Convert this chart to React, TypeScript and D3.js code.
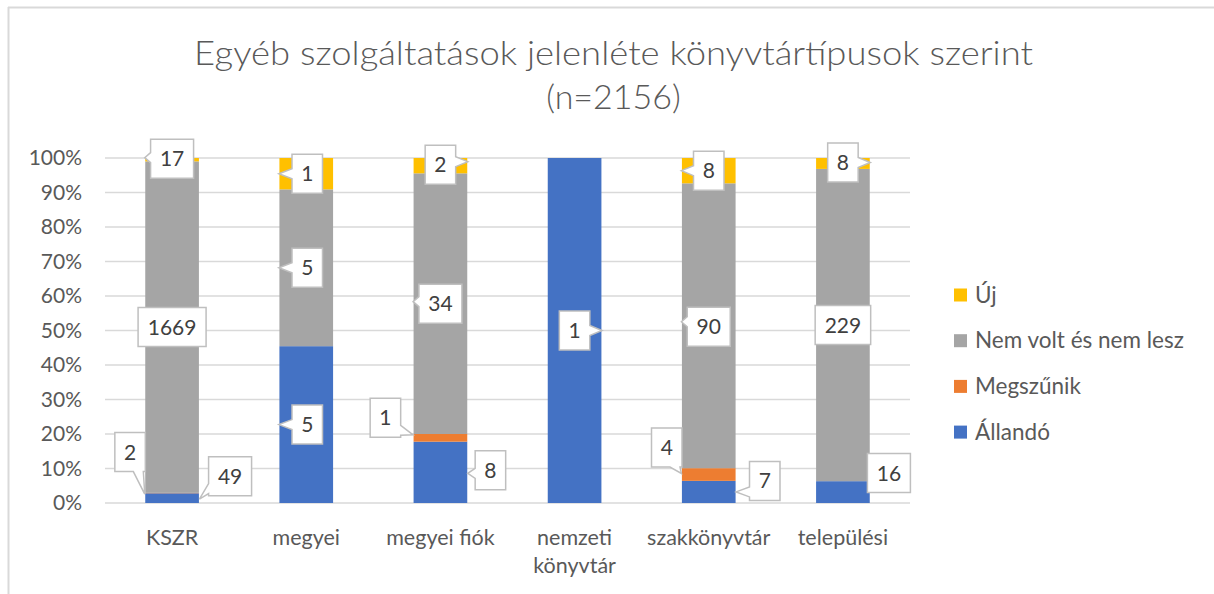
import React, { useEffect } from 'react';
import * as d3 from 'd3';

const categories = ['KSZR', 'megyei', 'megyei fiók', 'nemzeti könyvtár', 'szakkönyvtár', 'települési'];
const seriesNames = ['Állandó', 'Megszűnik', 'Nem volt és nem lesz', 'Új'];
const allando = [49, 5, 8, 1, 7, 16];
const megszunik = [2, 0, 1, 0, 4, 0];
const nemVolt = [1669, 5, 34, 0, 90, 229];
const uj = [17, 1, 2, 0, 8, 8];
const colors = ['#4472C4', '#ED7D31', '#A5A5A5', '#FFC000'];
const yTicks = [0, 0.1, 0.2, 0.3, 0.4, 0.5, 0.6, 0.7, 0.8, 0.9, 1];

// callout placement per category/series: [box dx, box dy, tip side (-1 left, 1 right, 0 none), tip dy]
const calloutPos: Record<string, [number, number, number, number]> = {
  'KSZR|0': [58, -22, 1, 1],
  'KSZR|1': [-42, -41, -1, 1],
  'KSZR|2': [0, 0, 0, 0],
  'KSZR|3': [0, -1, -1, -2],
  'megyei|0': [1, 0, -1, 0],
  'megyei|2': [1, 0, -1, 0],
  'megyei|3': [1, 0, -1, 0],
  'megyei fiók|0': [50, -2, 1, 1],
  'megyei fiók|1': [-55, -20, -1, -3],
  'megyei fiók|2': [0, 0, -1, -2],
  'megyei fiók|3': [0, -1, 1, -4],
  'nemzeti könyvtár|0': [0, 0, 1, 0],
  'szakkönyvtár|0': [56, -11, 1, 0],
  'szakkönyvtár|1': [-42, -27, -1, -1],
  'szakkönyvtár|2': [0, 1, -1, -4],
  'szakkönyvtár|3': [0, 0, -1, 0],
  'települési|0': [46, -19, 1, -4],
  'települési|2': [0, 0, 0, 0],
  'települési|3': [0, -1, 1, -1],
};

const W = 1214;
const H = 594;
const FONT = 'Lato, "Open Sans", sans-serif';
const TEXT = '#595959';

function calloutPath(x0: number, y0: number, x1: number, y1: number, tx: number, ty: number, hasTip: boolean) {
  const dxOut = tx < x0 ? x0 - tx : tx > x1 ? tx - x1 : 0;
  const dyOut = ty < y0 ? y0 - ty : ty > y1 ? ty - y1 : 0;
  if (!hasTip || (dxOut === 0 && dyOut === 0)) {
    return `M${x0},${y0}H${x1}V${y1}H${x0}Z`;
  }
  const w = 5;
  if (dxOut >= dyOut) {
    const c = Math.max(y0 + 7, Math.min(y1 - 7, ty));
    if (tx < x0) return `M${x0},${y0}H${x1}V${y1}H${x0}V${c + w}L${tx},${ty}L${x0},${c - w}Z`;
    return `M${x0},${y0}H${x1}V${c - w}L${tx},${ty}L${x1},${c + w}V${y1}H${x0}Z`;
  }
  const c = Math.max(x0 + 7, Math.min(x1 - 7, tx));
  if (ty < y0) return `M${x0},${y0}H${c - w}L${tx},${ty}L${c + w},${y0}H${x1}V${y1}H${x0}Z`;
  return `M${x0},${y0}H${x1}V${y1}H${c + w}L${tx},${ty}L${c - w},${y1}H${x0}Z`;
}

const App: React.FC = () => {
  useEffect(() => {
    document.body.style.margin = '0';
  }, []);

  const plotLeft = 105;
  const plotRight = 910;
  const plotTop = 158;
  const plotBottom = 503;

  const x = d3.scaleBand<string>().domain(categories).range([plotLeft, plotRight]).paddingInner(0.6).paddingOuter(0.3);
  const y = d3.scaleLinear().domain([0, 1]).range([plotBottom, plotTop]);
  const bw = x.bandwidth();

  const rows = categories.map((c, i) => ({
    cat: c,
    s0: allando[i],
    s1: megszunik[i],
    s2: nemVolt[i],
    s3: uj[i],
  }));
  const stacked = d3.stack<any>().keys(['s0', 's1', 's2', 's3']).offset(d3.stackOffsetExpand)(rows);

  const callouts: React.ReactNode[] = [];
  stacked.forEach((layer, si) => {
    layer.forEach((d, ci) => {
      const cat = categories[ci];
      const v = (d.data as any)[`s${si}`] as number;
      const pos = calloutPos[`${cat}|${si}`];
      if (!v || !pos) return;
      const cx = (x(cat) as number) + bw / 2;
      const cy = y((d[0] + d[1]) / 2);
      const label = String(v);
      const bwid = label.length * 12.5 + 18;
      const bh = 39;
      const bx = cx + pos[0];
      const by = cy + pos[1];
      const tx = cx + pos[2] * (bw / 2 + 0.5);
      const ty = cy + pos[3];
      callouts.push(
        <g key={`c-${si}-${ci}`}>
          <path
            d={calloutPath(bx - bwid / 2, by - bh / 2, bx + bwid / 2, by + bh / 2, tx, ty, pos[2] !== 0)}
            fill="#fff"
            stroke="#BFBFBF"
            strokeWidth={1.5}
          />
          <text x={bx} y={by + 7.5} textAnchor="middle" fontSize={21} fill="#404040" fontFamily={FONT}>
            {label}
          </text>
        </g>
      );
    });
  });

  const legendItems = seriesNames.map((n, i) => ({ name: n, color: colors[i] })).reverse();

  return (
    <svg width={W} height={H} style={{ display: 'block', background: '#fff' }} fontFamily={FONT}>
      <rect x={0} y={0} width={W} height={H} fill="#fff" />
      <line x1={8} x2={W} y1={7.5} y2={7.5} stroke="#D9D9D9" strokeWidth={2} />
      <line x1={8.5} x2={8.5} y1={7} y2={H} stroke="#D9D9D9" strokeWidth={2} />

      <text x={613.5} y={65} textAnchor="middle" fontSize={34} fontWeight={300} fill={TEXT} textLength={839} lengthAdjust="spacingAndGlyphs">
        Egyéb szolgáltatások jelenléte könyvtártípusok szerint
      </text>
      <text x={613.5} y={109} textAnchor="middle" fontSize={34} fontWeight={300} fill={TEXT}>
        (n=2156)
      </text>

      {yTicks.map((t) => (
        <g key={`t-${t}`}>
          <line x1={plotLeft} x2={plotRight} y1={y(t)} y2={y(t)} stroke="#D9D9D9" strokeWidth={1.5} />
          <text x={82} y={y(t) + 7} textAnchor="end" fontSize={21} fill={TEXT}>
            {d3.format('.0%')(t)}
          </text>
        </g>
      ))}

      {stacked.map((layer, si) => (
        <g key={`s-${si}`} fill={colors[si]}>
          {layer.map((d, ci) => (
            <rect
              key={ci}
              x={x(categories[ci])}
              y={y(d[1])}
              width={bw}
              height={Math.max(0, y(d[0]) - y(d[1]))}
            />
          ))}
        </g>
      ))}

      {categories.map((c) => {
        const lines = c.length > 14 ? c.split(' ') : [c];
        return (
          <text key={`x-${c}`} x={(x(c) as number) + bw / 2} y={545} textAnchor="middle" fontSize={21.5} fill={TEXT}>
            {lines.map((l, i) => (
              <tspan key={i} x={(x(c) as number) + bw / 2} dy={i === 0 ? 0 : 28}>
                {l}
              </tspan>
            ))}
          </text>
        );
      })}

      {callouts}

      {legendItems.map((it, i) => (
        <g key={`l-${i}`} transform={`translate(954, ${295 + i * 45.7})`}>
          <rect x={0} y={-6.5} width={13} height={13} fill={it.color} />
          <text x={21} y={7.5} fontSize={22.5} fill={TEXT}>
            {it.name}
          </text>
        </g>
      ))}
    </svg>
  );
};

export default App;
